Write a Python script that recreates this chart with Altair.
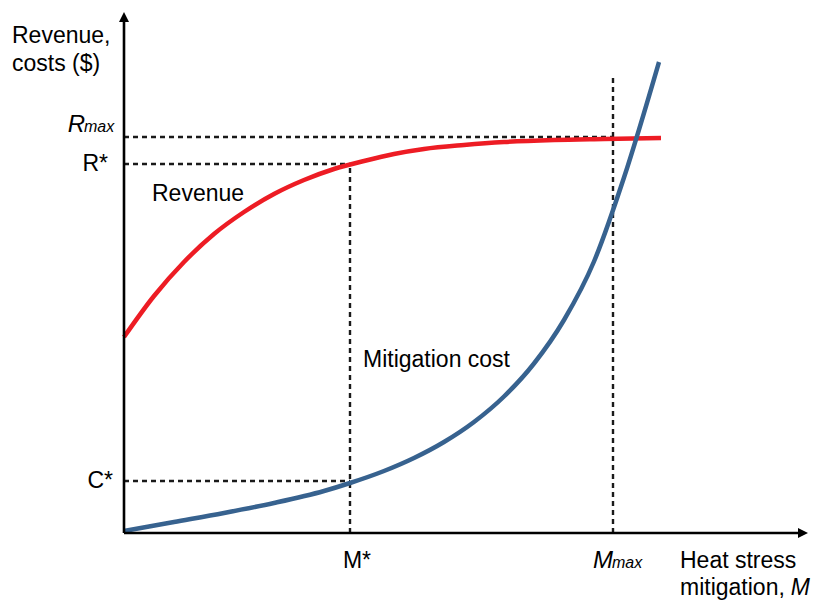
import altair as alt
import pandas as pd

# ---- data (x: mitigation units, y: $ units; origin at the axes' corner) ----
rev_x = [0, 30, 60, 90, 120, 150, 180, 210, 240, 270, 300, 340, 380, 430, 480, 537]
rev_y = [196, 237, 271, 299, 321, 339, 353, 364, 372, 379, 384, 388, 391, 393, 394, 395]

cost_x = [0, 50, 100, 150, 200, 226, 260, 290, 320, 350, 380, 410, 440, 470, 500, 535]
cost_y = [2, 11, 20, 30, 42, 50, 62, 75, 91, 111, 136.5, 169.5, 213, 271.5, 355.5, 471]

M_star, M_max = 226, 489
R_star, R_max, C_star = 369, 396, 52
X_END, Y_END = 684, 521

FONT = "Liberation Sans"
FS = 23

xs = alt.Scale(domain=[0, 685], nice=False, zero=False)
ys = alt.Scale(domain=[0, 521], nice=False, zero=False)


def X(f="x"):
    return alt.X(f, type="quantitative", scale=xs, axis=None)


def Y(f="y"):
    return alt.Y(f, type="quantitative", scale=ys, axis=None)


# guide lines
hdash = pd.DataFrame({"x": [0, 0, 0], "x2": [M_max, M_star, M_star], "y": [R_max, R_star, C_star]})
vdash = pd.DataFrame({"x": [M_star, M_max], "y": [0, 0], "y2": [R_star, 456]})

h_rules = alt.Chart(hdash).mark_rule(color="#1a1a1a", strokeWidth=2.4, strokeDash=[5, 4]).encode(
    x=X(), x2="x2", y=Y())
v_rules = alt.Chart(vdash).mark_rule(color="#1a1a1a", strokeWidth=2.4, strokeDash=[5, 4]).encode(
    x=X(), y=Y(), y2="y2")

rev = alt.Chart(pd.DataFrame({"x": rev_x, "y": rev_y})).mark_line(
    color="#ED1C24", strokeWidth=4.5, interpolate="monotone").encode(x=X(), y=Y())
cost = alt.Chart(pd.DataFrame({"x": cost_x, "y": cost_y})).mark_line(
    color="#37628F", strokeWidth=4.5, interpolate="monotone").encode(x=X(), y=Y())

# axes
axes_df = pd.DataFrame({"x": [0, 0], "x2": [0, X_END - 8], "y": [0, 0], "y2": [Y_END - 8, 0]})
axes = alt.Chart(axes_df).mark_rule(color="black", strokeWidth=2.6).encode(
    x=X(), x2="x2", y=Y(), y2="y2")
up = alt.Chart(pd.DataFrame({"x": [0], "y": [Y_END - 5]})).mark_point(
    shape="M0,-1L1,1L-1,1Z", filled=True, color="black", opacity=1, size=100).encode(x=X(), y=Y())
right = alt.Chart(pd.DataFrame({"x": [X_END - 5], "y": [0]})).mark_point(
    shape="M1,0L-1,1L-1,-1Z", filled=True, color="black", opacity=1, size=100).encode(x=X(), y=Y())

# text labels
left_txt = pd.DataFrame({
    "x": [-112, -112, 28, 239, 556, 556],
    "y": [490, 462, 332, 166, -35, -62],
    "t": ["Revenue,", "costs ($)", "Revenue", "Mitigation cost", "Heat stress", "mitigation,"],
})
t_left = alt.Chart(left_txt).mark_text(align="left", baseline="alphabetic", font=FONT, fontSize=FS).encode(
    x=X(), y=Y(), text="t:N")

right_txt = pd.DataFrame({"x": [-16, -11], "y": [R_star, C_star], "t": ["R*", "C*"]})
t_right = alt.Chart(right_txt).mark_text(align="right", baseline="middle", font=FONT, fontSize=FS).encode(
    x=X(), y=Y(), text="t:N")

mstar = alt.Chart(pd.DataFrame({"x": [233], "y": [-35], "t": ["M*"]})).mark_text(
    align="center", baseline="alphabetic", font=FONT, fontSize=FS).encode(x=X(), y=Y(), text="t:N")

it_big = pd.DataFrame({"x": [-39, 489], "y": [401, -35], "t": ["R", "M"]})
t_it_big = alt.Chart(it_big).mark_text(align="right", baseline="alphabetic", font=FONT, fontSize=24,
                                        fontStyle="italic").encode(x=X(), y=Y(), text="t:N")
t_axis_m = alt.Chart(pd.DataFrame({"x": [686], "y": [-62], "t": ["M"]})).mark_text(
    align="right", baseline="alphabetic", font=FONT, fontSize=FS, fontStyle="italic").encode(
    x=X(), y=Y(), text="t:N")
it_small = pd.DataFrame({"x": [-40, 488], "y": [401, -35], "t": ["max", "max"]})
t_it_small = alt.Chart(it_small).mark_text(align="left", baseline="alphabetic", font=FONT, fontSize=16,
                                            fontStyle="italic").encode(x=X(), y=Y(), text="t:N")

chart = alt.layer(h_rules, v_rules, rev, cost, axes, up, right,
                  t_left, t_right, mstar, t_it_big, t_axis_m, t_it_small).properties(
    width=685, height=521,
    autosize=alt.AutoSizeParams(type="none"),
    padding={"left": 116, "top": 4, "right": 5, "bottom": 67},
).configure_view(stroke=None)

chart.save("out.html", embed_options={"renderer": "svg", "actions": False})
